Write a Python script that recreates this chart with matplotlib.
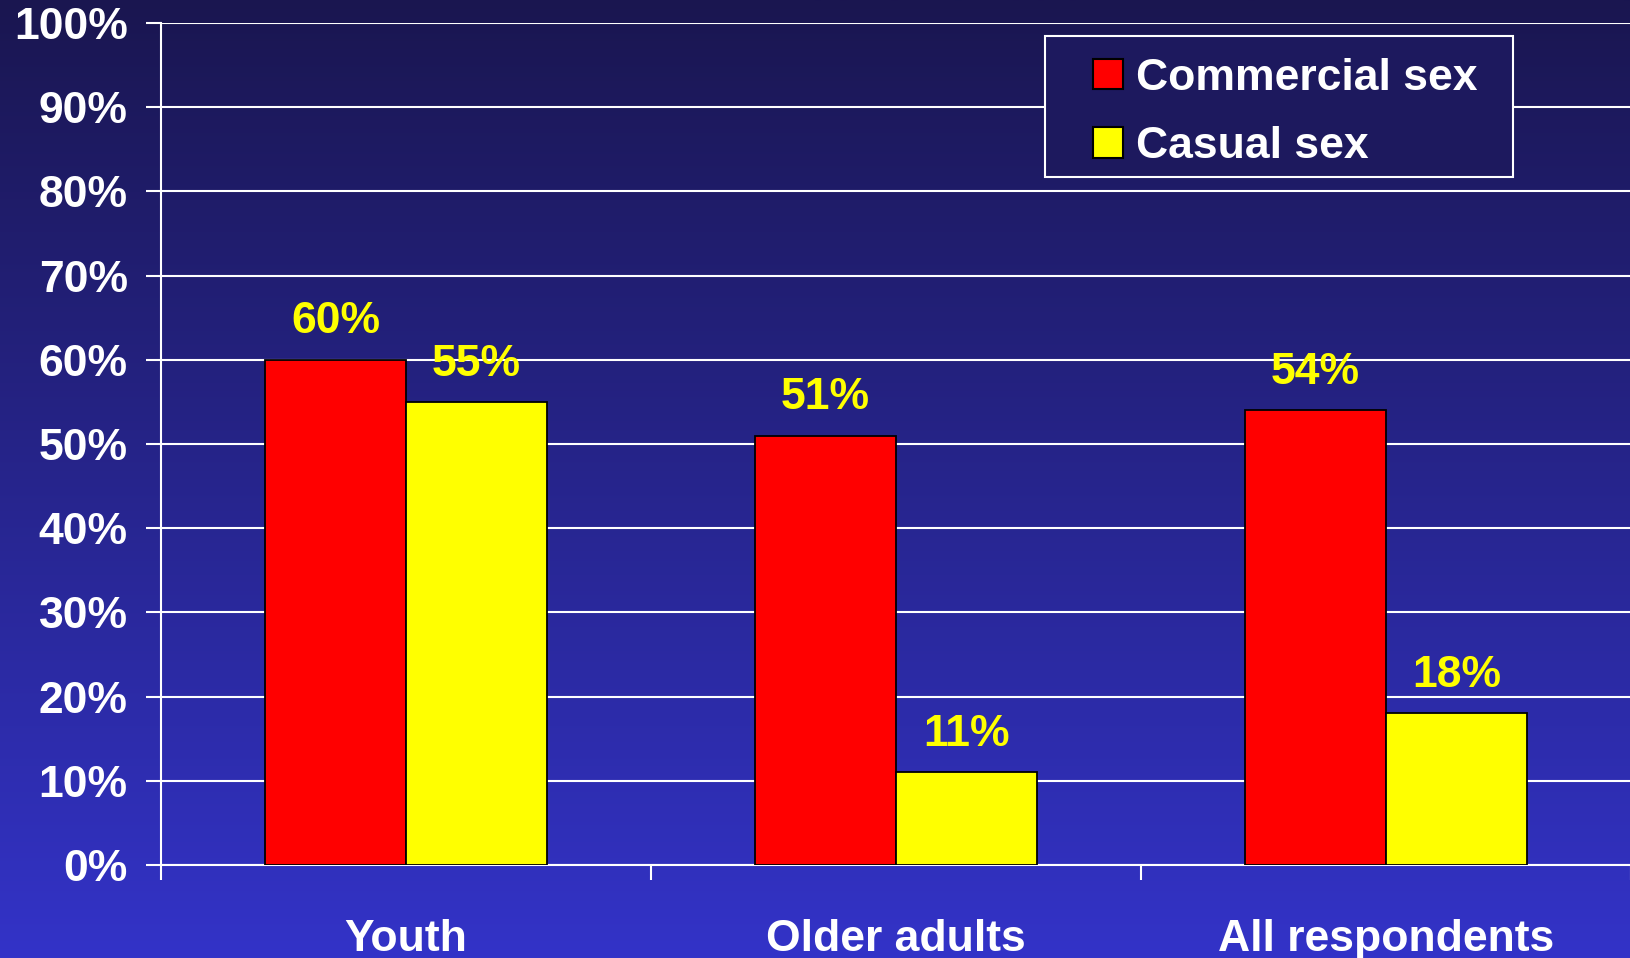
import numpy as np
import matplotlib
matplotlib.use("Agg")
import matplotlib.pyplot as plt
from matplotlib.patches import Rectangle

# data
categories = ["Youth", "Older adults", "All respondents"]
series_names = ["Commercial sex", "Casual sex"]
commercial = [60, 51, 54]
casual = [55, 11, 18]
y_ticks = [0, 10, 20, 30, 40, 50, 60, 70, 80, 90, 100]

RED = "#ff0000"
YELLOW = "#ffff00"
TOP_BG = np.array([26, 22, 80]) / 255
BOT_BG = np.array([51, 51, 200]) / 255
FS = 32

plt.rcParams["font.family"] = ["Liberation Sans", "DejaVu Sans"]
plt.rcParams["font.weight"] = "bold"

W, H = 1631, 958
fig = plt.figure(figsize=(W / 100, H / 100), dpi=100)

# background gradient (top dark navy -> bottom brighter blue)
bg = fig.add_axes([0, 0, 1, 1], zorder=-10)
t = np.linspace(0, 1, 512)[:, None]
grad = (TOP_BG * (1 - t) + BOT_BG * t)[:, None, :]
bg.imshow(grad, aspect="auto", extent=[0, 1, 0, 1])
bg.set_axis_off()

ax = fig.add_axes([161 / W, 93 / H, 1470 / W, 842 / H])
ax.patch.set_visible(False)

x = np.arange(len(categories))
bw = 0.288
b1 = ax.bar(x - bw / 2, commercial, bw, color=RED, edgecolor="black", linewidth=1.3, zorder=3,
            label=series_names[0])
b2 = ax.bar(x + bw / 2, casual, bw, color=YELLOW, edgecolor="black", linewidth=1.3, zorder=3,
            label=series_names[1])

for bars, vals in ((b1, commercial), (b2, casual)):
    for r, v in zip(bars, vals):
        ax.annotate(f"{v}%", (r.get_x() + r.get_width() / 2, v), xytext=(0, 19),
                    textcoords="offset points", ha="center", va="baseline",
                    color=YELLOW, fontsize=FS, fontweight="bold", zorder=4)

ax.set_xlim(-0.5, len(categories) - 0.5)
ax.set_ylim(0, 100)
ax.set_yticks(y_ticks)
ax.set_yticklabels([f"{v}%" for v in y_ticks])
ax.yaxis.grid(True, color="white", linewidth=1.5, zorder=0)
ax.set_axisbelow(True)

ax.set_xticks(np.arange(len(categories) + 1) - 0.5)
ax.set_xticklabels([])
ax.set_xticks(x, minor=True)
ax.set_xticklabels(categories, minor=True)
ax.tick_params(axis="x", which="major", direction="out", length=11, width=1.5, color="white")
ax.tick_params(axis="x", which="minor", length=0, pad=39, labelsize=FS, labelcolor="white")
ax.tick_params(axis="y", direction="out", length=11, width=1.5, color="white",
               pad=13, labelsize=FS, labelcolor="white")

for s in ("top", "right"):
    ax.spines[s].set_visible(False)
for s in ("left", "bottom"):
    ax.spines[s].set_color("white")
    ax.spines[s].set_linewidth(1.5)

# legend box
bx0, by0 = (1045 - 161) / 1470, (865 - 177) / 842
bx1, by1 = (1513 - 161) / 1470, (865 - 36) / 842
fill = TOP_BG * 0.88 + BOT_BG * 0.12
ax.add_patch(Rectangle((bx0, by0), bx1 - bx0, by1 - by0, transform=ax.transAxes,
                       facecolor=fill, edgecolor="white", linewidth=1.5, zorder=5))
leg = ax.legend(loc="upper left", bbox_to_anchor=((1093 - 161) / 1470, 0.959),
                frameon=False, borderpad=0, borderaxespad=0, handlelength=0.67,
                handleheight=0.67, handletextpad=0.3, labelspacing=0.62,
                fontsize=FS, labelcolor="white")
leg.set_zorder(6)
for p in leg.get_patches():
    p.set_linewidth(1.5)
    p.set_edgecolor("black")

fig.savefig("out.png", dpi=100)
